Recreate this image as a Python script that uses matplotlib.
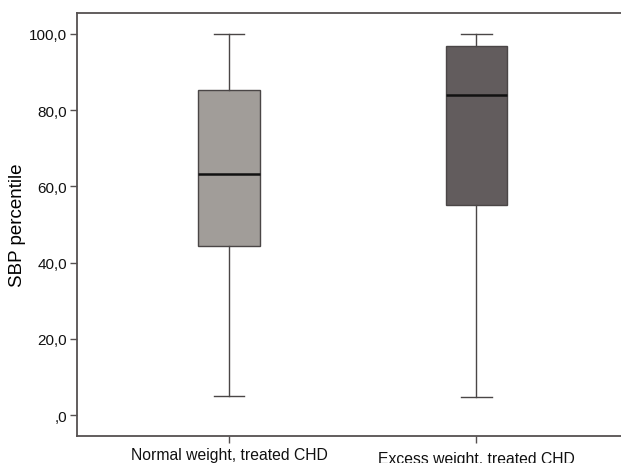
import matplotlib
matplotlib.use("Agg")
import matplotlib.pyplot as plt
import matplotlib.transforms as mtransforms

plt.rcParams["font.family"] = ["Liberation Sans", "DejaVu Sans"]

# ── Datos ──
grupos = ["Normal weight, treated CHD", "Excess weight, treated CHD"]
minimos = [5.0, 4.7]
q1 = [44.3, 55.1]
medianas = [63.3, 84.0]
q3 = [85.3, 96.9]
maximos = [100.0, 100.0]
colores = ["#a19d99", "#625c5d"]
yticks = [0, 20, 40, 60, 80, 100]
ytick_labels = [",0", "20,0", "40,0", "60,0", "80,0", "100,0"]

fig = plt.figure(figsize=(6.21, 4.64), dpi=100)
ax = fig.add_axes([0.124, 0.058, 0.8824, 0.912])

stats = []
for i, g in enumerate(grupos):
    stats.append({"label": g, "whislo": minimos[i], "q1": q1[i], "med": medianas[i],
                  "q3": q3[i], "whishi": maximos[i], "fliers": []})

posiciones = [1, 2]
bp = ax.bxp(stats, positions=posiciones, widths=0.25, patch_artist=True,
            showfliers=False, capwidths=0.125,
            boxprops=dict(edgecolor="#4a4646", linewidth=1.0),
            medianprops=dict(color="#111111", linewidth=1.8),
            whiskerprops=dict(color="#4a4646", linewidth=1.0),
            capprops=dict(color="#4a4646", linewidth=1.0))
for caja, c in zip(bp["boxes"], colores):
    caja.set_facecolor(c)

ax.set_xlim(0.386, 2.6)
ax.set_ylim(-5.5, 105.5)
ax.set_yticks(yticks)
ax.set_yticklabels(ytick_labels)
ax.set_xticks(posiciones)
ax.set_xticklabels(grupos)
ax.set_ylabel("SBP percentile", fontsize=13.5, labelpad=2)

for s in ["left", "bottom", "top"]:
    ax.spines[s].set_color("#555050")
    ax.spines[s].set_linewidth(1.3)
ax.spines["right"].set_visible(False)
ax.tick_params(axis="both", colors="#555050", length=5, width=1.0)
ax.tick_params(axis="y", labelsize=11, labelcolor="#111111", pad=2)
ax.tick_params(axis="x", labelsize=11.3, labelcolor="#111111", pad=3)

# segunda etiqueta algo más baja, como en el original
lbl = ax.get_xticklabels()[1]
lbl.set_transform(lbl.get_transform() + mtransforms.ScaledTranslation(0, -4 / 100, fig.dpi_scale_trans))

fig.savefig("out.png", dpi=100)
